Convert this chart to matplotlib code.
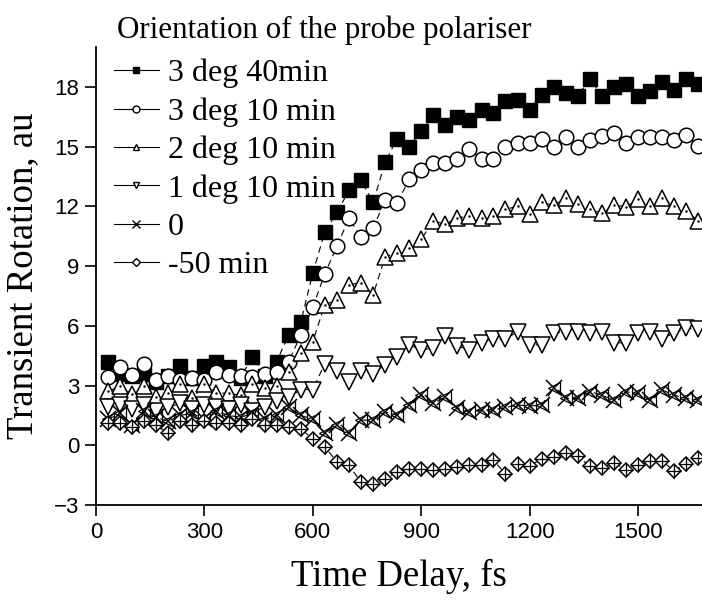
import matplotlib
matplotlib.use("Agg")
import matplotlib.pyplot as plt
from matplotlib.lines import Line2D

# Delay positions (fs)
delay = [33, 67, 100, 133, 167, 200, 233, 267, 300, 333,
         367, 400, 433, 467, 500, 533, 567, 600, 633, 667,
         700, 733, 767, 800, 833, 867, 900, 933, 967, 1000,
         1033, 1067, 1100, 1133, 1167, 1200, 1233, 1267, 1300, 1333,
         1367, 1400, 1433, 1467, 1500, 1533, 1567, 1600, 1633, 1667]

# Transient rotation (au) for each probe polariser orientation
deg3_40min = [4.2, 3.6, 3.5, 3.6, 3.2, 3.5, 4.0, 3.4, 4.0, 4.2,
              3.95, 3.4, 4.45, 3.5, 4.2, 5.55, 6.2, 8.65, 10.7, 11.7,
              12.8, 13.3, 12.2, 14.2, 15.4, 15.0, 15.8, 16.6, 16.1, 16.5,
              16.35, 16.85, 16.7, 17.3, 17.35, 16.85, 17.6, 18.0, 17.7, 17.55,
              18.4, 17.55, 18.0, 18.15, 17.55, 17.8, 18.25, 17.85, 18.4, 18.15]
deg3_10min = [3.45, 3.95, 3.53, 4.1, 3.3, 3.48, 3.28, 3.4, 3.3, 3.7,
              3.53, 3.48, 3.45, 3.56, 3.7, 4.2, 5.55, 6.94, 8.6, 10.0,
              11.4, 10.45, 10.9, 12.3, 12.15, 13.36, 13.8, 14.17, 14.17, 14.37,
              14.87, 14.4, 14.4, 15.0, 15.18, 15.2, 15.38, 14.96, 15.5, 14.96,
              15.35, 15.55, 15.67, 15.18, 15.5, 15.5, 15.5, 15.35, 15.58, 15.04]
deg2_10min = [2.7, 2.97, 2.57, 2.97, 2.44, 2.6, 3.08, 2.35, 3.08, 2.64,
              2.6, 2.52, 3.08, 2.9, 3.0, 3.7, 4.62, 5.2, 7.06, 7.3,
              8.07, 8.15, 7.56, 9.46, 9.67, 9.9, 10.34, 11.26, 11.1, 11.43,
              11.5, 11.43, 11.5, 11.85, 12.0, 11.6, 12.2, 12.05, 12.44, 12.1,
              11.88, 11.65, 12.05, 11.99, 12.35, 12.0, 12.44, 12.0, 11.77, 11.26]
deg1_10min = [1.9, 2.0, 1.8, 2.0, 1.7, 1.9, 2.1, 1.8, 2.0, 1.9,
              1.8, 2.0, 1.7, 1.9, 2.2, 2.4, 2.8, 2.8, 4.1, 3.75,
              3.2, 3.75, 3.6, 4.05, 4.45, 5.06, 4.76, 4.9, 5.48, 4.98,
              4.8, 5.14, 5.33, 5.33, 5.71, 5.04, 5.04, 5.63, 5.71, 5.71,
              5.63, 5.71, 5.16, 5.13, 5.63, 5.71, 5.33, 5.66, 5.88, 5.83]
deg0 = [1.3, 1.6, 1.0, 1.7, 1.4, 1.2, 1.5, 1.6, 1.3, 1.7,
        1.5, 1.4, 1.6, 1.3, 1.5, 1.9, 1.5, 1.3, 0.6, 1.0,
        0.6, 1.26, 1.26, 1.68, 1.51, 2.02, 2.52, 2.1, 2.44, 1.85,
        1.68, 1.77, 1.77, 1.9, 2.02, 1.97, 2.02, 2.86, 2.35, 2.35,
        2.69, 2.52, 2.27, 2.69, 2.6, 2.27, 2.77, 2.52, 2.35, 2.27]
minus50min = [1.1, 1.1, 0.9, 1.2, 1.0, 0.6, 1.2, 1.0, 1.2, 1.1,
              1.1, 1.0, 1.3, 1.0, 1.0, 0.9, 0.84, 0.29, -0.08, -0.84,
              -1.0, -1.85, -1.93, -1.68, -1.35, -1.18, -1.18, -1.26, -1.18, -1.09,
              -1.0, -1.0, -0.76, -1.43, -0.92, -1.06, -0.67, -0.59, -0.39, -0.55,
              -1.06, -1.13, -0.89, -1.22, -1.0, -0.79, -0.79, -1.3, -0.92, -0.62]

labels = ["3 deg 40min", "3 deg 10 min", "2 deg 10 min", "1 deg 10 min", "0", "-50 min"]
x_ticks = [0, 300, 600, 900, 1200, 1500]
y_ticks = [-3, 0, 3, 6, 9, 12, 15, 18]

serif = "Liberation Serif"
sans = "Liberation Sans"

fig = plt.figure(figsize=(7.02, 6.0), dpi=100)
ax = fig.add_axes([96 / 702, 95 / 600, 606 / 702, 458 / 600])

dash = dict(color="black", lw=0.8, linestyle=(0, (6, 4)))
ms = 10

# squares, circles, triangles drawn in this order (later ones sit on top)
ax.plot(delay, deg3_40min, marker="s", ms=ms, mfc="black", mec="black", **dash)
ax.plot(delay, deg3_10min, marker="o", ms=ms + 0.5, mfc="white", mec="black", mew=1.1, **dash)
ax.plot(delay, deg2_10min, marker="^", ms=ms + 1, mfc="white", mec="black", mew=1.1, **dash)
ax.plot(delay, deg2_10min, ls="none", marker=".", ms=1.5, color="black")
ax.plot(delay, deg1_10min, marker="v", ms=ms + 1, mfc="white", mec="black", mew=1.1, **dash)
ax.plot(delay, deg0, marker="x", ms=ms + 2, mec="black", mew=1.1, **dash)
ax.plot(delay, deg0, ls="none", marker="<", ms=ms - 1, mfc="none", mec="black", mew=0.9)
ax.plot(delay, minus50min, marker="D", ms=7.2, mfc="white", mec="black", mew=1.1, **dash)
ax.plot(delay, minus50min, ls="none", marker="+", ms=10, mec="black", mew=0.9)

ax.set_xlim(0, 1677)
ax.set_ylim(-3, 20)
ax.set_xticks(x_ticks)
ax.set_yticks(y_ticks)
for s in ["top", "right"]:
    ax.spines[s].set_visible(False)
for s in ["left", "bottom"]:
    ax.spines[s].set_linewidth(1.3)
ax.tick_params(direction="out", length=8, width=1.2, labelsize=16, pad=4)
for lab in ax.get_xticklabels() + ax.get_yticklabels():
    lab.set_family(sans)

ax.set_xlabel("Time Delay, fs", fontsize=26.5, family=serif, labelpad=12)
ax.set_ylabel("Transient Rotation, au", fontsize=26.5, family=serif, labelpad=10)

# legend with small markers and solid handle lines
handles = [
    Line2D([], [], color="black", lw=0.8, marker="s", ms=5, mfc="black"),
    Line2D([], [], color="black", lw=0.8, marker="o", ms=5, mfc="white"),
    Line2D([], [], color="black", lw=0.8, marker="^", ms=5, mfc="white"),
    Line2D([], [], color="black", lw=0.8, marker="v", ms=5, mfc="white"),
    Line2D([], [], color="black", lw=0.8, marker="x", ms=6),
    Line2D([], [], color="black", lw=0.8, marker="D", ms=4, mfc="white"),
]
fig.text(117 / 702, 1 - 30 / 600, "Orientation of the probe polariser",
         fontsize=22.3, family=serif, va="center", ha="left")
fig.legend(handles, labels, loc="upper left", bbox_to_anchor=(101 / 702, 1 - 46 / 600),
           frameon=False, prop={"family": serif, "size": 23},
           handlelength=1.4, handletextpad=0.3, labelspacing=0.28, borderaxespad=0)

fig.savefig("out.png", dpi=100)
